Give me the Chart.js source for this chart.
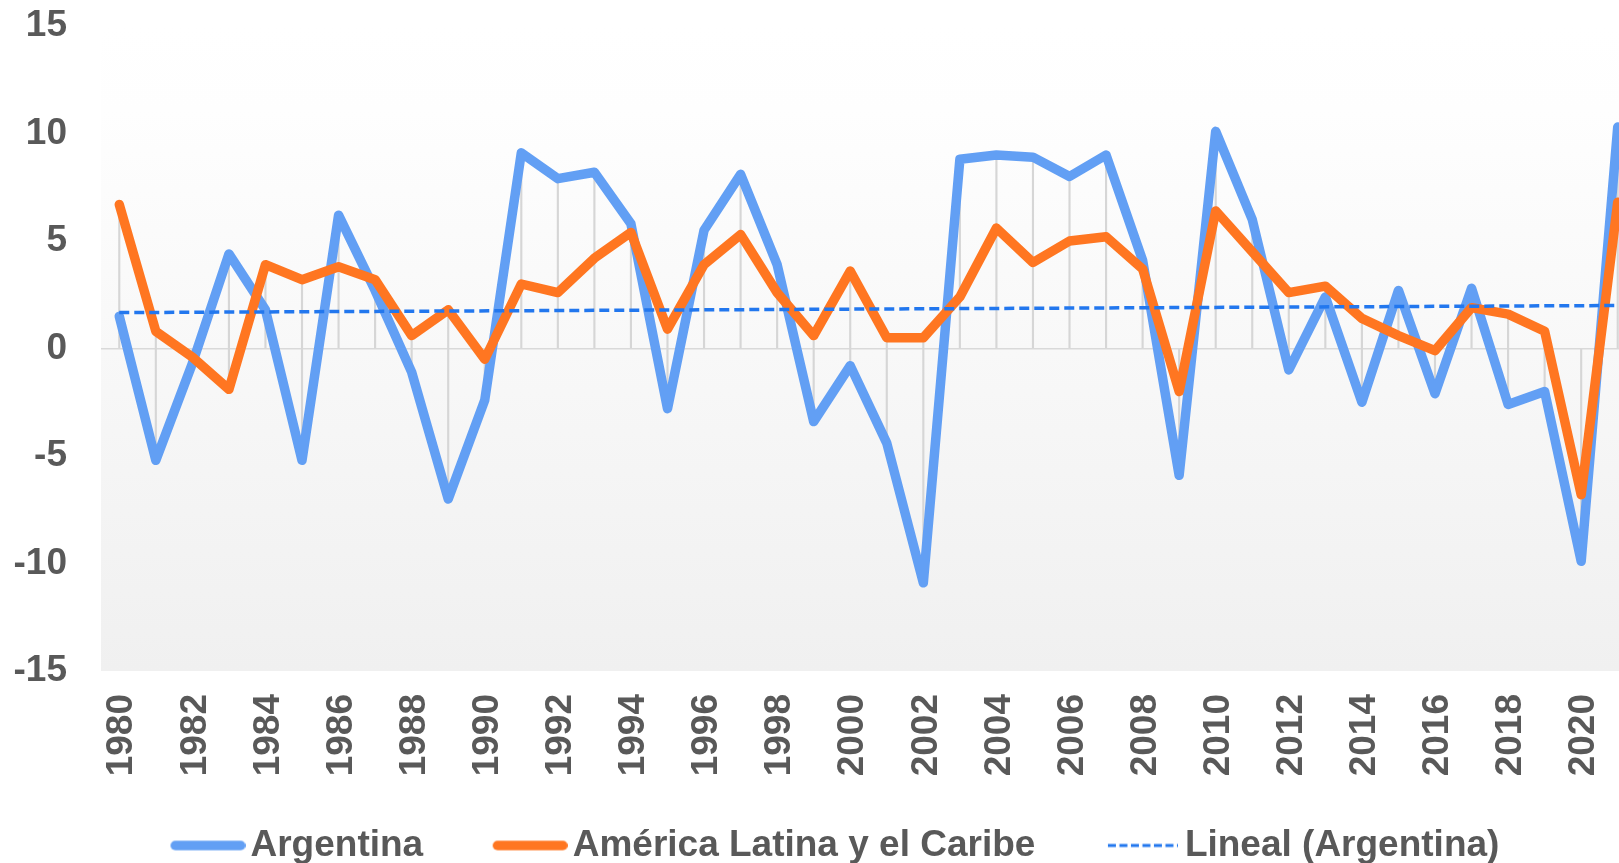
<!DOCTYPE html>
<html>
<head>
<meta charset="utf-8">
<script src="https://cdn.jsdelivr.net/npm/chart.js@4/dist/chart.umd.min.js"></script>
<style>
  html, body { margin:0; padding:0; background:#fff; overflow:hidden; }
  #wrap { width:1636px; height:874px; }
</style>
</head>
<body>
<div id="wrap"><canvas id="growthChart" width="1636" height="874"></canvas></div>
<script>
// categories
const years = ['1980','1981','1982','1983','1984','1985','1986','1987','1988','1989',
  '1990','1991','1992','1993','1994','1995','1996','1997','1998','1999',
  '2000','2001','2002','2003','2004','2005','2006','2007','2008','2009',
  '2010','2011','2012','2013','2014','2015','2016','2017','2018','2019',
  '2020','2021']

// series values (% growth)
const argentina = [1.5, -5.2, -0.7, 4.4, 1.8, -5.2, 6.2, 2.7, -1.1, -7.0,
  -2.4, 9.1, 7.9, 8.2, 5.8, -2.8, 5.5, 8.1, 3.9, -3.4,
  -0.8, -4.4, -10.9, 8.8, 9.0, 8.9, 8.0, 9.0, 4.1, -5.9,
  10.1, 6.0, -1.0, 2.4, -2.5, 2.7, -2.1, 2.8, -2.6, -2.0,
  -9.9, 10.3]
const latam = [6.7, 0.8, -0.4, -1.9, 3.9, 3.2, 3.8, 3.2, 0.6, 1.8,
  -0.5, 3.0, 2.6, 4.2, 5.4, 0.9, 3.9, 5.3, 2.6, 0.6,
  3.6, 0.5, 0.5, 2.4, 5.6, 4.0, 5.0, 5.2, 3.7, -2.0,
  6.4, 4.5, 2.6, 2.9, 1.4, 0.6, -0.1, 1.9, 1.6, 0.8,
  -6.8, 6.8]

// linear trend of Argentina, both ends
const trendYears = ['1980', '2021']
const trendValues = [1.67, 2.0]

// y axis ticks
const yMin = -15, yMax = 15, yStep = 5

const seriesNames = ['Argentina', 'América Latina y el Caribe', 'Lineal (Argentina)']

const TEXT = '#595959'
const BLUE = '#629ff4'
const ORANGE = '#ff7621'
const TREND = '#2277ee'
const FONT = "'Liberation Sans', Arial, sans-serif"

Chart.defaults.font.family = FONT
Chart.defaults.font.weight = 'bold'
Chart.defaults.color = TEXT

// legend samples: transparent on the left so the line sits right next to the text
const BOX_W = 115
const SAMPLE_W = BOX_W + 27
function legendSample(color, len, lw, dash, endGap){
  const c = document.createElement('canvas')
  c.width = SAMPLE_W; c.height = 14
  const g = c.getContext('2d')
  g.strokeStyle = color; g.lineWidth = lw
  let cap = 0
  if(dash){ g.setLineDash(dash); g.lineCap = 'butt' } else { g.lineCap = 'round'; cap = lw/2 }
  const end = SAMPLE_W - endGap
  g.beginPath(); g.moveTo(end - len + cap, 7); g.lineTo(end - cap, 7); g.stroke()
  return c
}
const samples = [
  legendSample(BLUE, 75, 9.5, null, 0),
  legendSample(ORANGE, 75, 9.5, null, 0),
  legendSample(TREND, 70, 3, [8, 3.5], 2)
]

// plot area background: soft vertical gradient, white at the top
const plotBg = {
  id: 'plotBg',
  beforeDraw(chart){
    const {ctx, chartArea: a} = chart
    const g = ctx.createLinearGradient(0, a.top, 0, a.bottom)
    g.addColorStop(0, '#ffffff')
    g.addColorStop(0.13, '#fefefe')
    g.addColorStop(1, '#f0f0f0')
    ctx.save(); ctx.fillStyle = g
    ctx.fillRect(a.left, a.top, a.right - a.left, a.bottom - a.top)
    ctx.restore()
  }
}

const ctx = document.getElementById('growthChart').getContext('2d')
new Chart(ctx, {
  type: 'line',
  data: {
    labels: years,
    datasets: [
      { label: seriesNames[0], data: argentina, borderColor: BLUE, backgroundColor: BLUE,
        borderWidth: 9.5, pointRadius: 0, tension: 0, borderJoinStyle: 'round', borderCapStyle: 'round', order: 2 },
      { label: seriesNames[1], data: latam, borderColor: ORANGE, backgroundColor: ORANGE,
        borderWidth: 9.5, pointRadius: 0, tension: 0, borderJoinStyle: 'round', borderCapStyle: 'round', order: 1 },
      { label: seriesNames[2], data: trendYears.map((y, i) => ({x: y, y: trendValues[i]})),
        borderColor: TREND, backgroundColor: TREND, borderWidth: 3.5, borderDash: [10, 5],
        pointRadius: 0, tension: 0, order: 0 },
      // drop lines from the zero line to the extreme values of each year
      { type: 'bar', label: 'drop', data: years.map((y, i) => [Math.min(0, argentina[i], latam[i]), Math.max(0, argentina[i], latam[i])]),
        backgroundColor: '#d6d6d6', barThickness: 1.5, order: 3 }
    ]
  },
  options: {
    responsive: false,
    devicePixelRatio: 1,
    animation: false,
    events: [],
    layout: { padding: { top: 26, left: 0, right: 0, bottom: 0 } },
    scales: {
      x: {
        type: 'category',
        offset: true,
        grid: { display: false, drawTicks: false },
        border: { display: false },
        ticks: {
          autoSkip: false, minRotation: 90, maxRotation: 90, padding: 23, labelOffset: 3,
          font: { size: 37, weight: 'bold' }, color: TEXT,
          callback: (v, i) => i % 2 === 0 ? years[i] : ''
        },
        afterFit: s => { s.height = 140; s.paddingLeft = 0; s.paddingRight = 0 }
      },
      y: {
        min: yMin, max: yMax,
        grid: {
          drawTicks: false, lineWidth: 1.5,
          color: c => c.tick && c.tick.value === 0 ? '#d9d9d9' : 'rgba(0,0,0,0)'
        },
        border: { display: false },
        ticks: { stepSize: yStep, padding: 34, font: { size: 37, weight: 'bold' }, color: TEXT },
        afterFit: s => { s.width = 101; s.paddingTop = 0; s.paddingBottom = 0 }
      }
    },
    plugins: {
      tooltip: { enabled: false },
      legend: {
        position: 'bottom',
        align: 'start',
        fullSize: false,
        labels: {
          usePointStyle: true,
          pointStyleWidth: BOX_W,
          padding: 16,
          color: TEXT,
          font: { size: 37, weight: 'bold' },
          generateLabels(chart){
            const items = Chart.defaults.plugins.legend.labels.generateLabels(chart)
              .filter(it => it.datasetIndex < 3)
              .sort((a, b) => a.datasetIndex - b.datasetIndex)
            items.forEach(it => { it.pointStyle = samples[it.datasetIndex] })
            return items
          }
        }
      }
    }
  },
  plugins: [plotBg]
})
</script>
</body>
</html>
